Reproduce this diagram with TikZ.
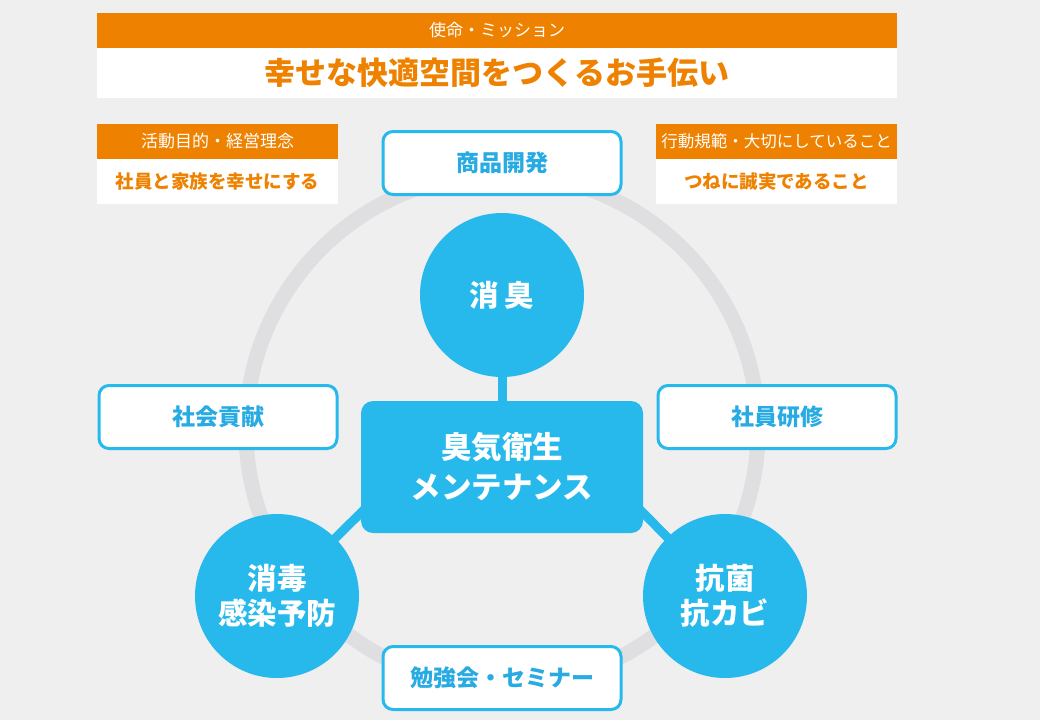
\documentclass[tikz,border=0pt]{standalone}
\usepackage{fontspec}
\setmainfont{Noto Sans CJK JP}
\usetikzlibrary{positioning}
\definecolor{sky}{HTML}{27B9EC}
\definecolor{skytext}{HTML}{27ABE2}
\definecolor{amber}{HTML}{EE8200}
\definecolor{paper}{HTML}{EFEFEF}
\definecolor{rim}{HTML}{DFDFE1}

\begin{document}
\begin{tikzpicture}[x=1pt,y=-1pt,on grid,
    orb/.style={circle,fill=sky,text=white,minimum size=164pt,inner sep=0pt,align=center,font=\bfseries\fontsize{29.5}{35}\selectfont},
    hub/.style={rectangle,rounded corners=12pt,fill=sky,text=white,minimum width=282pt,minimum height=132pt,align=center,font=\bfseries\fontsize{30.5}{40}\selectfont},
    tag/.style={rectangle,rounded corners=10pt,draw=sky,line width=3pt,fill=white,text=skytext,minimum width=238pt,minimum height=63pt,font=\bfseries\fontsize{23}{27}\selectfont},
    band/.style={rectangle,fill=amber,text=white,inner sep=0pt,minimum height=35pt,font=\fontsize{17}{20}\selectfont},
    sheet/.style={rectangle,fill=white,text=amber,inner sep=0pt}]
                        \fill[paper] (0,0) rectangle (1040,720);
                        \useasboundingbox (0,0) rectangle (1040,720);
                        \coordinate (mid) at (502,430);
                        \draw[rim,line width=15pt] (mid) circle[radius=256];
                        \node[band,minimum width=800pt] (mis) at (497,30.5) {使命・ミッション};
                        \node[sheet,minimum width=800pt,minimum height=50pt,font=\bfseries\fontsize{31}{35}\selectfont] (goal) [below=42.5pt of mis] {幸せな快適空間をつくるお手伝い};
                        \node[band,minimum width=241pt] (aim) at (217.5,141.5) {活動目的・経営理念};
                        \node[sheet,minimum width=241pt,minimum height=45pt,font=\bfseries\fontsize{18.5}{22}\selectfont] (aimT) [below=40pt of aim] {社員と家族を幸せにする};
                        \node[band,minimum width=241pt,font=\fontsize{16.5}{20}\selectfont] (rule) at (776.5,141.5) {行動規範・大切にしていること};
                        \node[sheet,minimum width=241pt,minimum height=45pt,font=\bfseries\fontsize{18.5}{22}\selectfont] (ruleT) [below=40pt of rule] {つねに誠実であること};
                        \node[hub] (core) at (502,467) {臭気衛生\\メンテナンス};
                        \node[orb] (deo) [above=172pt of core] {消\hspace{6pt}臭};
                        \node[orb] (dis) [below left=129pt and 225pt of core] {消毒\\感染予防};
                        \node[orb] (anti) [below right=129pt and 223pt of core] {抗菌\\抗カビ};
                        \path[draw=sky,line width=9pt,shorten <=-8pt,shorten >=-6pt]
                            (core) edge (deo)
                            (core.198) edge (dis)
                            (core.342) edge (anti);
                        \node[tag] (dev) [above=132pt of deo] {商品開発};
                        \node[tag] (soc) [above left=50pt and 284pt of core] {社会貢献};
                        \node[tag] (edu) [above right=50pt and 275pt of core] {社員研修};
                        \node[tag] (sem) [below=211pt of core] {勉強会・セミナー};
                    \end{tikzpicture}
\end{document}
